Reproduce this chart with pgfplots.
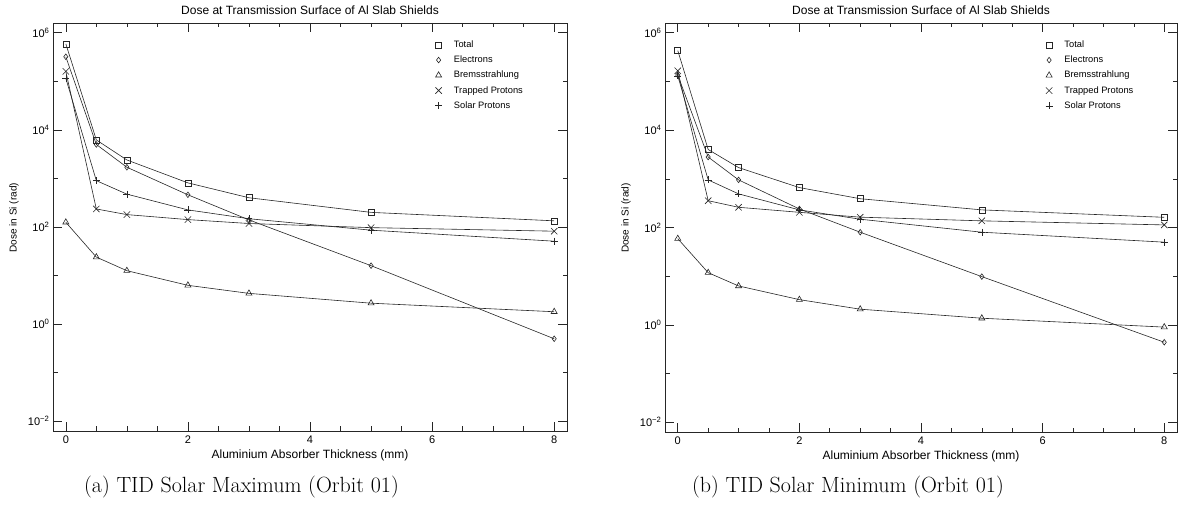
\documentclass[border=0pt]{standalone}
\usepackage{fontspec}
\usepackage{pgfplots}
\pgfplotsset{compat=1.18}
\newfontfamily\plotfont{Liberation Sans}

% settings shared by both dose panels
\pgfplotsset{
  scale only axis,
  xmin=-0.21, xmax=8.21,
  ymin=6.31e-3, ymax=1.585e6,
  axis line style={black!85, line width=0.6pt},
  xtick={0,2,4,6,8},
  xticklabels={0,2,4,6,8},
  minor xtick={0.5,1,1.5,2.5,3,3.5,4.5,5,5.5,6.5,7,7.5},
  ytick={1e-2,1,1e2,1e4,1e6},
  yticklabels={10\textsuperscript{−2},10\textsuperscript{0},10\textsuperscript{2},10\textsuperscript{4},10\textsuperscript{6}},
  minor ytick={1e-1,1e1,1e3,1e5},
  tick align=inside,
  major tick length=9pt,
  minor tick length=4.5pt,
  tick style={black!85, line width=0.6pt},
  tick label style={font=\plotfont\fontsize{11}{11}\selectfont},
  xticklabel style={yshift=-1pt},
  % legend shows the marker only, with a gap before the text
  legend image code/.code={\draw[#1] plot coordinates {(0pt,0pt)}; \path (13pt,0pt);},
  legend style={draw=none, fill=none, at={(0.743,0.962)}, anchor=north west,
    font=\plotfont\fontsize{9.3}{9.3}\selectfont, row sep=3pt, inner sep=0pt},
  legend cell align=left,
  pTotal/.style={black!85, line width=0.6pt, mark=square, mark size=3pt, mark options={solid}},
  pElec/.style={black!85, line width=0.6pt, mark=diamond, mark size=2.8pt, mark options={solid}},
  pBrem/.style={black!85, line width=0.6pt, mark=triangle, mark size=3.5pt, mark options={solid}},
  pTrap/.style={black!85, line width=0.6pt, mark=x, mark size=4.5pt, mark options={solid}},
  pSolar/.style={black!85, line width=0.6pt, mark=+, mark size=3.5pt, mark options={solid}},
}

\newcommand{\panelText}{%
  \node[font=\plotfont\fontsize{12}{12}\selectfont] at (axis description cs:0.5,1.032) {Dose at Transmission Surface of Al Slab Shields};
  \node[font=\plotfont\fontsize{12}{12}\selectfont] at (axis description cs:0.5,-0.059) {Aluminium Absorber Thickness (mm)};
  \node[font=\plotfont\fontsize{10}{10}\selectfont, rotate=90] at (axis description cs:-0.076,0.523) {Dose in Si (rad)};
}

\begin{document}
\begin{tikzpicture}
\useasboundingbox (0pt,0pt) rectangle (1178pt,511pt);

% (a) solar maximum
\begin{axis}[ymode=log, clip=false, width=514pt, height=408pt, at={(53pt,80pt)}, anchor=south west]
\addplot[pTotal] coordinates {(0,5.9e5) (0.5,6.2e3) (1,2.4e3) (2,810) (3,400) (5,200) (8,134)};
\addlegendentry{Total}
\addplot[pElec] coordinates {(0,3.2e5) (0.5,5.0e3) (1,1.7e3) (2,460) (3,140) (5,16) (8,0.5)};
\addlegendentry{Electrons}
\addplot[pBrem] coordinates {(0,125) (0.5,24) (1,12.6) (2,6.3) (3,4.3) (5,2.7) (8,1.8)};
\addlegendentry{Bremsstrahlung}
\addplot[pTrap] coordinates {(0,1.6e5) (0.5,235) (1,180) (2,142) (3,118) (5,97) (8,82)};
\addlegendentry{Trapped Protons}
\addplot[pSolar] coordinates {(0,1.15e5) (0.5,900) (1,475) (2,225) (3,148) (5,86) (8,51)};
\addlegendentry{Solar Protons}
\panelText
\end{axis}

% (b) solar minimum
\begin{axis}[ymode=log, clip=false, width=512pt, height=409pt, at={(665pt,79pt)}, anchor=south west]
\addplot[pTotal] coordinates {(0,4.3e5) (0.5,4.0e3) (1,1.7e3) (2,660) (3,390) (5,230) (8,162)};
\addlegendentry{Total}
\addplot[pElec] coordinates {(0,1.35e5) (0.5,2.8e3) (1,950) (2,240) (3,80) (5,9.8) (8,0.44)};
\addlegendentry{Electrons}
\addplot[pBrem] coordinates {(0,59) (0.5,11.8) (1,6.3) (2,3.3) (3,2.1) (5,1.37) (8,0.9)};
\addlegendentry{Bremsstrahlung}
\addplot[pTrap] coordinates {(0,1.65e5) (0.5,355) (1,260) (2,205) (3,163) (5,137) (8,113)};
\addlegendentry{Trapped Protons}
\addplot[pSolar] coordinates {(0,1.3e5) (0.5,950) (1,490) (2,230) (3,148) (5,80) (8,50)};
\addlegendentry{Solar Protons}
\panelText
\end{axis}

% sub-figure captions
\node[font=\fontsize{22}{26}\selectfont] at (241.5pt,23.5pt) {(a) TID Solar Maximum (Orbit 01)};
\node[font=\fontsize{22}{26}\selectfont] at (848pt,23.5pt) {(b) TID Solar Minimum (Orbit 01)};
\end{tikzpicture}
\end{document}
